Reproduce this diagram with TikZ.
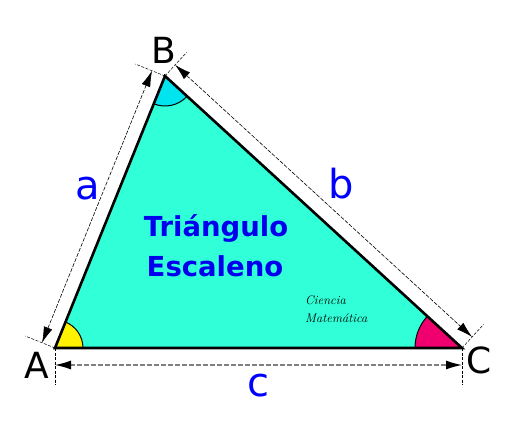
\documentclass[tikz,border=0pt]{standalone}
\usepackage{fontspec}
\newfontfamily\dejavu{DejaVu Sans}
\usepackage{xcolor}
\usepackage{tikz}
\usetikzlibrary{positioning, arrows.meta, calc}

\definecolor{aquafill}{RGB}{48,255,215}
\definecolor{angleB}{RGB}{0,228,240}
\definecolor{angleC}{RGB}{240,0,110}
\definecolor{titleblue}{RGB}{0,0,238}
\definecolor{sideblue}{RGB}{0,0,255}

\begin{document}
\begin{tikzpicture}[x=1pt, y=1pt,
    vertex/.style={font=\dejavu\fontsize{36}{36}\selectfont},
    side/.style={font=\dejavu\fontsize{40}{40}\selectfont, text=sideblue},
    title/.style={font=\dejavu\bfseries\fontsize{27.5}{30}\selectfont, text=titleblue},
    brand/.style={font=\itshape\fontsize{12.5}{13}\selectfont, anchor=west, inner sep=0pt},
    tick/.style={line width=0.5pt, dash pattern=on 3pt off 1.5pt},
    dimline/.style={line width=0.6pt, dash pattern=on 4pt off 1.5pt,
        {Latex[length=16pt,width=9pt]}-{Latex[length=16pt,width=9pt]}},
    baseline/.style={draw=gray, line width=1.2pt, dash pattern=on 5pt off 2pt,
        {Latex[length=16pt,width=9pt,fill=black,color=black]}-{Latex[length=16pt,width=9pt,fill=black,color=black]}}
]
\useasboundingbox[fill=white] (0,0) rectangle (520,440);

\coordinate (A) at (55,92);
\coordinate (B) at (165,364);
\coordinate (C) at (462,92);

% triangle and angles
\fill[aquafill] (A) -- (B) -- (C) -- cycle;
\fill[yellow] (A) -- ++(0:28) arc (0:67.98:28) -- cycle;
\fill[angleB] (B) -- ++(247.98:30) arc (247.98:317.52:30) -- cycle;
\fill[angleC] (C) -- ++(137.52:47) arc (137.52:180:47) -- cycle;
\draw[line width=1pt] (A) ++(0:28) arc (0:67.98:28);
\draw[line width=1pt] (B) ++(247.98:30) arc (247.98:317.52:30);
\draw[line width=1pt] (C) ++(137.52:47) arc (137.52:180:47);
\draw[line width=2.6pt, line join=miter] (A) -- (B) -- (C) -- cycle;

% extension lines
\coordinate (aA) at ($(A)!32pt!90:(B)$);
\coordinate (aB) at ($(B)!32pt!-90:(A)$);
\coordinate (bB) at ($(B)!32pt!90:(C)$);
\coordinate (bC) at ($(C)!32pt!-90:(B)$);
\coordinate (cA) at ($(A)!37pt!-90:(C)$);
\coordinate (cC) at ($(C)!37pt!90:(A)$);
\draw[tick] (A) -- (aA);
\draw[tick] (B) -- (aB);
\draw[tick] (B) -- (bB);
\draw[tick] (C) -- (bC);
\draw[tick] (A) -- (cA);
\draw[tick] (C) -- (cC);

% dimension lines
\draw[dimline] ($(A)!14pt!90:(B)$) -- ($(B)!14pt!-90:(A)$);
\draw[dimline] ($(B)!15pt!90:(C)$) -- ($(C)!15pt!-90:(B)$);
\draw[baseline] ($(A)!17pt!-90:(C)$) -- ($(C)!17pt!90:(A)$);

% labels
\node[vertex] (lA) at (37,75) {A};
\node[vertex] (lB) at (164,390) {B};
\node[vertex] (lC) at (479,80) {C};
\node[side] (sa) at (88,251) {a};
\node[side] (sb) at (341,256) {b};
\node[side] (sc) at (258,54) {c};

\node[title] (t1) at (216,212) {Triángulo};
\node[title] (t2) at (215,174) {Escaleno};
\node[brand] (cm1) at (305,140) {Ciencia};
\node[brand] (cm2) at (305,122) {Matemática};

\end{tikzpicture}
\end{document}
